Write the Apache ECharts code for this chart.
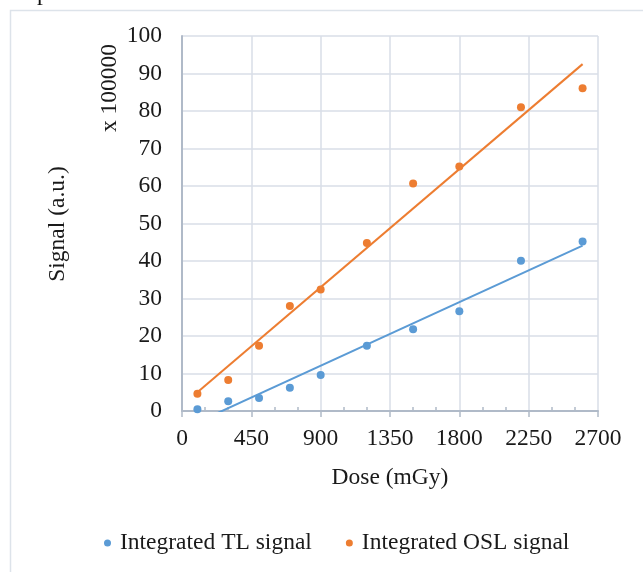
<!DOCTYPE html>
<html>
<head>
<meta charset="utf-8">
<script src="https://cdn.jsdelivr.net/npm/echarts@6/dist/echarts.min.js"></script>
<style>
html,body{margin:0;padding:0;background:#fff;}
#c{width:643px;height:572px;}
</style>
</head>
<body>
<div id="c"></div>
<script>
// Data
var doses = [100, 300, 500, 700, 900, 1200, 1500, 1800, 2200, 2600];
var tlSignal = [0.5, 2.6, 3.5, 6.2, 9.6, 17.4, 21.8, 26.6, 40.1, 45.2];
var oslSignal = [4.6, 8.3, 17.4, 28.0, 32.4, 44.8, 60.7, 65.2, 81.0, 86.1];
// Linear trendline end points
var tlTrendX = [100, 2600];
var tlTrendY = [-3.0, 44.1];
var oslTrendX = [100, 2600];
var oslTrendY = [5.0, 92.5];
var seriesNames = ['Integrated TL signal', 'Integrated OSL signal'];
var xTitle = 'Dose (mGy)';
var yTitle = 'Signal (a.u.)';
var unitLabel = 'x 100000';

function pairs(xs, ys) { return xs.map(function (x, i) { return [x, ys[i]]; }); }

var FONT = '"Liberation Serif", "Times New Roman", serif';
var FS = 23.5;
var TXT = '#1a1a1a';
var BLUE = '#5b9bd5';
var ORANGE = '#ed7d31';
var GRIDC = '#d9dee7';
var AXISC = '#b0bac8';

var chart = echarts.init(document.getElementById('c'), null, {renderer: 'canvas'});
chart.setOption({
  backgroundColor: '#ffffff',
  animation: false,
  textStyle: {fontFamily: FONT},
  grid: {left: 182, right: 45, top: 36, bottom: 161, containLabel: false},
  xAxis: [{
    type: 'value', min: 0, max: 2700, interval: 450,
    name: xTitle, nameLocation: 'middle', nameGap: 55,
    nameTextStyle: {fontFamily: FONT, fontSize: FS, color: TXT},
    axisLine: {show: true, lineStyle: {color: AXISC, width: 2}},
    axisTick: {show: true, length: 6, lineStyle: {color: AXISC, width: 1.5}},
    axisLabel: {fontFamily: FONT, fontSize: FS, color: TXT, margin: 16,
      formatter: function (v) { return String(v); }},
    splitLine: {show: true, lineStyle: {color: GRIDC, width: 1.5}}
  }, {
    type: 'value', min: 0, max: 2700, interval: 450, position: 'bottom', offset: 0,
    axisLine: {show: false},
    axisTick: {show: false, inside: true},
    minorTick: {show: true, splitNumber: 3, length: 4, lineStyle: {color: AXISC, width: 1.5}},
    axisLabel: {show: false},
    splitLine: {show: false}
  }],
  yAxis: {
    type: 'value', min: 0, max: 100, interval: 10,
    axisLine: {show: true, lineStyle: {color: AXISC, width: 2}},
    axisTick: {show: false},
    axisLabel: {fontFamily: FONT, fontSize: FS, color: TXT, margin: 20,
      formatter: function (v) { return String(v); }},
    splitLine: {show: true, lineStyle: {color: GRIDC, width: 1.5}}
  },
  legend: {
    data: seriesNames,
    left: 99, top: 526,
    icon: 'circle', itemWidth: 7, itemHeight: 7, itemGap: 34,
    textStyle: {fontFamily: FONT, fontSize: FS, color: TXT, padding: [0, 0, 0, 4]}
  },
  series: [{
    name: seriesNames[0], type: 'scatter', symbol: 'circle', symbolSize: 8,
    itemStyle: {color: BLUE, opacity: 1}, data: pairs(doses, tlSignal), z: 2
  }, {
    name: seriesNames[1], type: 'scatter', symbol: 'circle', symbolSize: 8,
    itemStyle: {color: ORANGE, opacity: 1}, data: pairs(doses, oslSignal), z: 2
  }, {
    name: 'TL trend', type: 'line', showSymbol: false, symbol: 'none', clip: true,
    lineStyle: {color: BLUE, width: 2}, data: pairs(tlTrendX, tlTrendY), z: 3
  }, {
    name: 'OSL trend', type: 'line', showSymbol: false, symbol: 'none', clip: true,
    lineStyle: {color: ORANGE, width: 2}, data: pairs(oslTrendX, oslTrendY), z: 3
  }],
  graphic: [{
    type: 'rect', left: 8, top: 8, silent: true,
    shape: {width: 700, height: 700},
    style: {fill: 'none', stroke: '#dde3ea', lineWidth: 1.5}
  }, {
    type: 'text', left: 37, top: -18, silent: true,
    style: {text: 'p', font: FS + 'px ' + FONT, fill: '#111'}
  }, {
    type: 'text', x: 58, y: 224, rotation: Math.PI / 2, silent: true,
    style: {text: yTitle, font: FS + 'px ' + FONT, fill: TXT, align: 'center', verticalAlign: 'middle'}
  }, {
    type: 'text', x: 110, y: 88, rotation: Math.PI / 2, silent: true,
    style: {text: unitLabel, font: FS + 'px ' + FONT, fill: TXT, align: 'center', verticalAlign: 'middle'}
  }]
});
</script>
</body>
</html>
